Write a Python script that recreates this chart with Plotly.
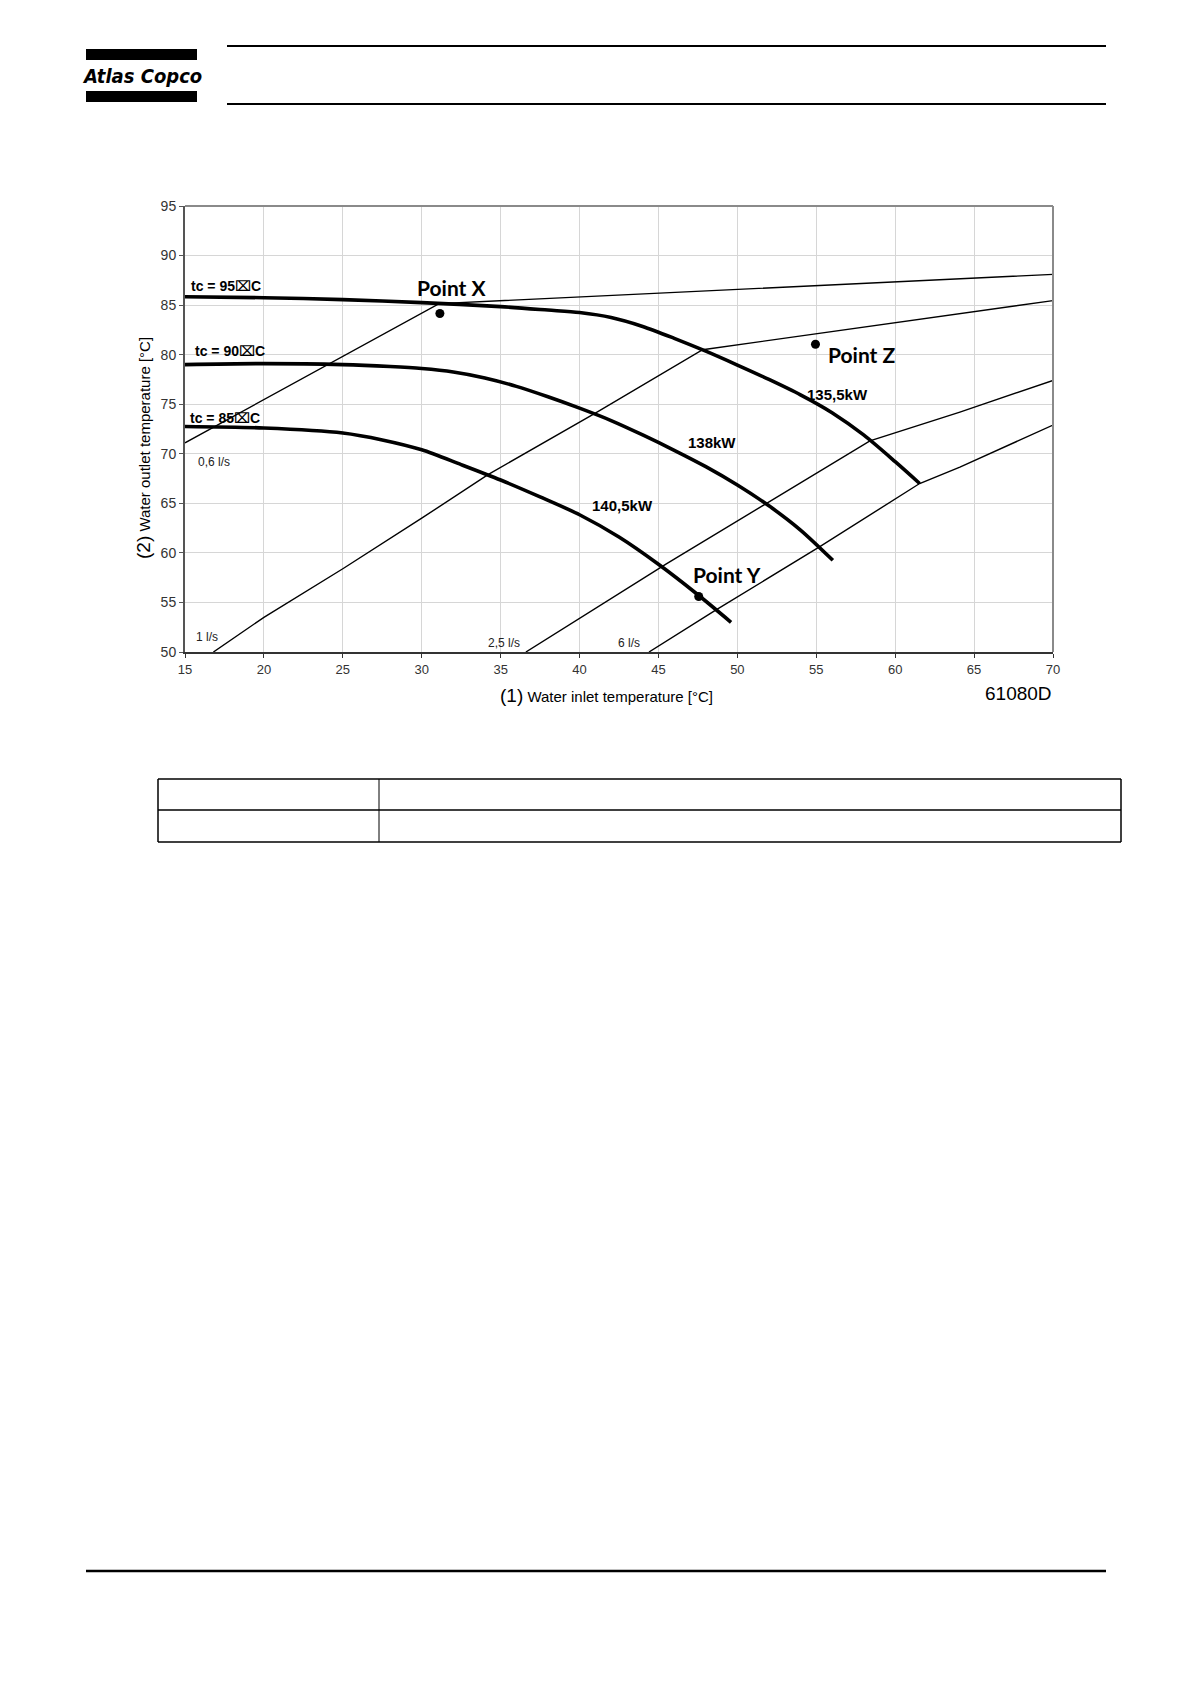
import plotly.graph_objects as go

# ---------------- data ----------------
x_ticks = [15, 20, 25, 30, 35, 40, 45, 50, 55, 60, 65, 70]
y_ticks = [50, 55, 60, 65, 70, 75, 80, 85, 90, 95]

# capacity curves (thick)
cap_135_x = [15, 20, 25, 30, 35, 38, 40, 42, 44, 46, 48, 50, 52, 54, 56, 58, 60, 61.55]
cap_135_y = [85.85, 85.75, 85.55, 85.25, 84.85, 84.5, 84.25, 83.75, 82.85, 81.65, 80.35, 78.95,
             77.5, 75.95, 74.15, 71.9, 69.2, 67.0]

cap_138_x = [15, 20, 25, 28, 30, 32, 34, 36, 38, 40, 42, 44, 46, 48, 50, 52, 54, 56.05]
cap_138_y = [79.0, 79.1, 79.0, 78.8, 78.6, 78.25, 77.65, 76.8, 75.75, 74.6, 73.35, 71.9,
             70.35, 68.7, 66.85, 64.75, 62.3, 59.25]

cap_140_x = [15, 20, 25, 27.5, 30, 32.5, 35, 37.5, 40, 42.5, 45, 47.4, 49.6]
cap_140_y = [72.75, 72.6, 72.1, 71.4, 70.4, 68.9, 67.35, 65.65, 63.85, 61.6, 58.85, 55.9, 53.0]

# water flow lines (thin)
flow_06_x = [15, 31.1, 70]
flow_06_y = [71.1, 85.15, 88.1]
flow_1_x = [16.8, 20, 25, 30, 34.2, 41.0, 47.8, 70]
flow_1_y = [50, 53.5, 58.4, 63.5, 67.9, 74.1, 80.5, 85.45]
flow_25_x = [36.6, 45.5, 51.8, 58.4, 64.1, 70]
flow_25_y = [50, 58.9, 64.95, 71.3, 74.2, 77.4]
flow_6_x = [44.4, 48.6, 55.2, 61.55, 64.1, 70]
flow_6_y = [50, 54.2, 60.6, 67.0, 68.65, 72.9]

# points
point_names = ["Point X", "Point Y", "Point Z"]
point_x = [31.15, 47.55, 54.95]
point_y = [84.15, 55.6, 81.05]
point_label_x = [31.9, 49.35, 57.9]
point_label_y = [86.8, 57.8, 80.0]

cap_labels = ["135,5kW", "138kW", "140,5kW"]
cap_label_x = [56.35, 48.4, 42.7]
cap_label_y = [75.95, 71.1, 64.8]

tc_labels = ["tc = 95\u2327C", "tc = 90\u2327C", "tc = 85\u2327C"]
tc_label_x = [15.25, 15.5, 15.2]
tc_label_y = [86.95, 80.4, 73.6]

flow_labels = ["0,6 l/s", "1 l/s", "2,5 l/s", "6 l/s"]
flow_label_x = [15.7, 15.6, 34.1, 42.3]
flow_label_y = [69.2, 51.55, 50.9, 50.9]

# ---------------- layout geometry (page pixels) ----------------
W, H = 1191, 1684
L, R, T, B = 185, 1053, 206, 652


def px(x):
    return (x - L) / (R - L)


def py(y):
    return (B - y) / (B - T)


fig = go.Figure()

thin = dict(color="black", width=1.4)
thick = dict(color="black", width=3.6)

for xs, ys in [(flow_06_x, flow_06_y), (flow_1_x, flow_1_y),
               (flow_25_x, flow_25_y), (flow_6_x, flow_6_y)]:
    fig.add_trace(go.Scatter(x=xs, y=ys, mode="lines", line=thin,
                             hoverinfo="skip", showlegend=False))

for xs, ys in [(cap_135_x, cap_135_y), (cap_138_x, cap_138_y),
               (cap_140_x, cap_140_y)]:
    fig.add_trace(go.Scatter(x=xs, y=ys, mode="lines",
                             line=dict(thick, shape="spline", smoothing=0.8),
                             hoverinfo="skip", showlegend=False))

fig.add_trace(go.Scatter(x=point_x, y=point_y, mode="markers",
                         marker=dict(color="black", size=9),
                         hoverinfo="skip", showlegend=False))

annotations = []


def ann(**kw):
    d = dict(showarrow=False, xanchor="center", yanchor="middle")
    d.update(kw)
    annotations.append(d)


for t, x, y in zip(point_names, point_label_x, point_label_y):
    ann(x=x, y=y, xref="x", yref="y", text="<b>%s</b>" % t,
        font=dict(family="Lato, Open Sans, sans-serif", size=21, color="black"))
for t, x, y in zip(cap_labels, cap_label_x, cap_label_y):
    ann(x=x, y=y, xref="x", yref="y", text="<b>%s</b>" % t,
        font=dict(family="Liberation Sans, Arial, sans-serif", size=15, color="black"))
for t, x, y in zip(tc_labels, tc_label_x, tc_label_y):
    ann(x=x, y=y, xref="x", yref="y", text="<b>%s</b>" % t, xanchor="left",
        font=dict(family="Liberation Sans, DejaVu Sans, sans-serif", size=14, color="black"))
for t, x, y in zip(flow_labels, flow_label_x, flow_label_y):
    ann(x=x, y=y, xref="x", yref="y", text=t, xanchor="left",
        font=dict(family="Liberation Sans, Arial, sans-serif", size=12, color="#222"))

# axis titles & code
ann(x=px(606), y=py(695), xref="paper", yref="paper",
    text='<span style="font-size:19px">(1)</span> Water inlet temperature [°C]',
    font=dict(family="Liberation Sans, Arial, sans-serif", size=15, color="black"))
ann(x=px(143), y=py(448), xref="paper", yref="paper",
    text='<span style="font-size:19px">(2)</span> Water outlet temperature [°C]',
    textangle=-90,
    font=dict(family="Liberation Sans, Arial, sans-serif", size=15, color="black"))
ann(x=px(1054), y=py(693), xref="paper", yref="paper",
    text="61080D", xanchor="right",
    font=dict(family="Liberation Sans, Arial, sans-serif", size=19, color="black"))
# logo text
ann(x=px(142), y=py(76), xref="paper", yref="paper",
    text="<b><i>Atlas Copco</i></b>",
    font=dict(family="Liberation Sans Narrow, DejaVu Sans Condensed, sans-serif",
              size=20, color="black"))

shapes = []


def hline(x0, x1, y, w, color="black"):
    shapes.append(dict(type="line", xref="paper", yref="paper",
                       x0=px(x0), x1=px(x1), y0=py(y), y1=py(y),
                       line=dict(color=color, width=w)))


def vline(x, y0, y1, w, color="black"):
    shapes.append(dict(type="line", xref="paper", yref="paper",
                       x0=px(x), x1=px(x), y0=py(y0), y1=py(y1),
                       line=dict(color=color, width=w)))


def rect(x0, y0, x1, y1, fill):
    shapes.append(dict(type="rect", xref="paper", yref="paper",
                       x0=px(x0), x1=px(x1), y0=py(y0), y1=py(y1),
                       fillcolor=fill, line=dict(width=0)))


# header
hline(227, 1106, 46, 2.2)
hline(227, 1106, 104, 2.2)
rect(86, 49, 197, 60, "black")
rect(86, 91, 197, 102, "black")
# plot frame top/right (gray)
hline(185, 1053, 206, 2, "#8a8a8a")
vline(1053, 206, 652, 2, "#8a8a8a")
# table
hline(158, 1121, 779, 1.5)
hline(158, 1121, 810, 1.5)
hline(158, 1121, 842, 1.5)
vline(158, 779, 842, 1.5)
vline(1121, 779, 842, 1.5)
vline(379, 779, 842, 1)
# footer
hline(86, 1106, 1571, 2.6)

fig.update_layout(
    width=W, height=H, autosize=False,
    margin=dict(l=L, r=W - R, t=T, b=H - B, pad=0),
    paper_bgcolor="white", plot_bgcolor="white",
    showlegend=False,
    annotations=annotations, shapes=shapes,
    font=dict(family="Liberation Sans, Arial, sans-serif", color="#333"),
)
fig.update_xaxes(range=[15, 70], tickvals=x_ticks, ticktext=[str(v) for v in x_ticks],
                 showgrid=True, gridcolor="#d6d6d6", gridwidth=1,
                 showline=True, linecolor="#333", linewidth=2,
                 ticks="outside", ticklen=4, tickcolor="#333",
                 tickfont=dict(size=13, color="#333"), zeroline=False)
fig.update_yaxes(range=[50, 95], tickvals=y_ticks, ticktext=[str(v) for v in y_ticks],
                 showgrid=True, gridcolor="#d6d6d6", gridwidth=1,
                 showline=True, linecolor="#555", linewidth=2,
                 ticks="outside", ticklen=4, tickcolor="#555",
                 tickfont=dict(size=14, color="#333"), zeroline=False)

fig.write_html("out.html", config={"displayModeBar": False},
               post_script="document.body.style.margin='0';")
